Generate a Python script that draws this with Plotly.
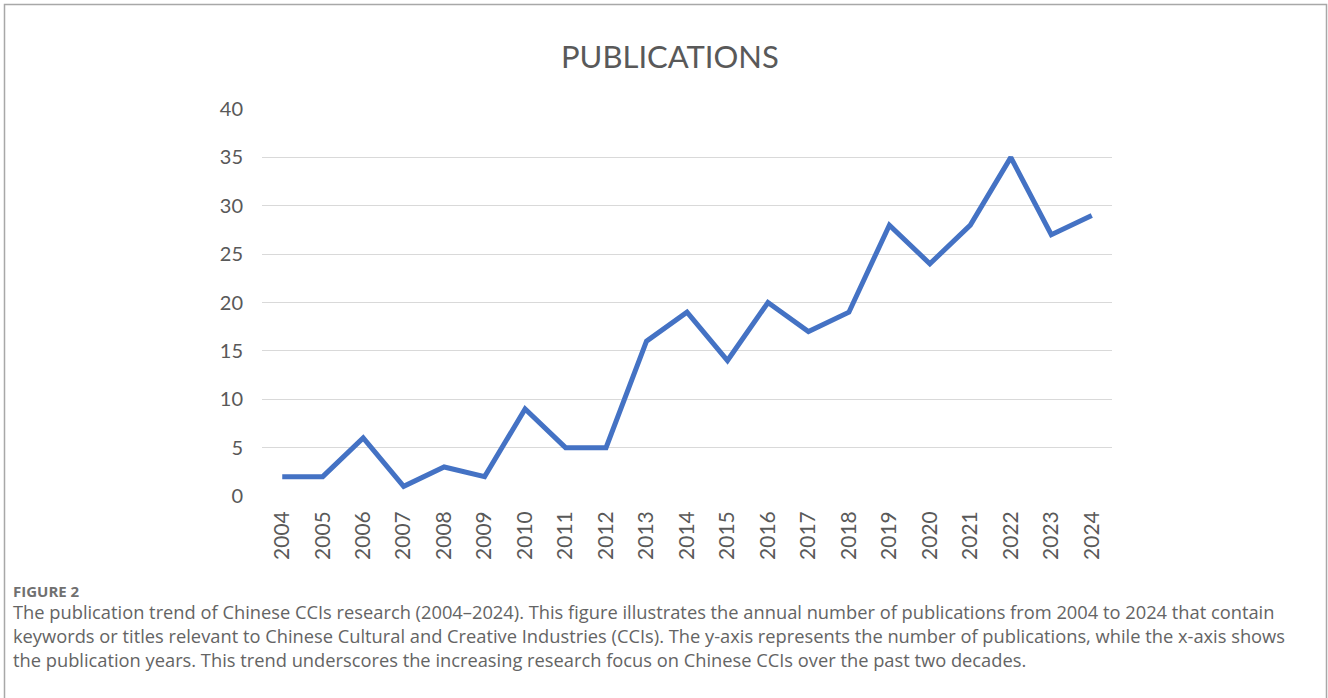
import plotly.graph_objects as go

years = [str(y) for y in range(2004, 2025)]
publications = [2, 2, 6, 1, 3, 2, 9, 5, 5, 16, 19, 14, 20, 17, 19, 28, 24, 28, 35, 27, 29]
y_ticks = [0, 5, 10, 15, 20, 25, 30, 35, 40]

W, H = 1328, 698
L, R, T, B = 262, 1112, 109, 496  # plot area in pixels


def px_x(p):
    return (p - L) / (R - L)


def px_y(p):
    return (B - p) / (B - T)


fig = go.Figure()
fig.add_trace(go.Scatter(
    x=years, y=publications, mode="lines",
    line=dict(color="#4472C4", width=5, shape="linear"),
    hoverinfo="x+y", showlegend=False,
))

fig.update_layout(
    width=W, height=H,
    margin=dict(l=L, r=W - R, t=T, b=H - B),
    paper_bgcolor="white", plot_bgcolor="white",
    font=dict(family="Lato, Open Sans, sans-serif", color="#595959"),
    xaxis=dict(
        type="category", tickangle=-90, showgrid=False, zeroline=False,
        showline=False, ticks="", tickfont=dict(size=21, color="#595959"),
        range=[-0.5, 20.5], ticklabelstandoff=10,
    ),
    yaxis=dict(
        range=[0, 40], tickvals=y_ticks, showgrid=True, gridcolor="#d9d9d9",
        gridwidth=1.3, zeroline=False, showline=False, ticks="",
        tickfont=dict(size=20, color="#595959"), ticklabelstandoff=18,
    ),
)

# Chart title
fig.add_annotation(
    text="PUBLICATIONS", xref="paper", yref="paper",
    x=px_x(670), y=px_y(56), xanchor="center", yanchor="middle",
    showarrow=False, font=dict(size=31, color="#595959", family="Lato, Open Sans, sans-serif"),
)

# Figure caption
fig.add_annotation(
    text="<b>FIGURE 2</b>", xref="paper", yref="paper",
    x=px_x(11), y=px_y(591), xanchor="left", yanchor="middle",
    showarrow=False, font=dict(size=15, color="#707070", family="Open Sans, sans-serif"),
)
caption_lines = [
    "The publication trend of Chinese CCIs research (2004\u20132024). This figure illustrates the annual number of publications from 2004 to 2024 that contain",
    "keywords or titles relevant to Chinese Cultural and Creative Industries (CCIs). The y-axis represents the number of publications, while the x-axis shows",
    "the publication years. This trend underscores the increasing research focus on Chinese CCIs over the past two decades.",
]
for i, line in enumerate(caption_lines):
    fig.add_annotation(
        text=line, xref="paper", yref="paper",
        x=px_x(11), y=px_y(611 + 24 * i), xanchor="left", yanchor="middle",
        showarrow=False, font=dict(size=18.3, color="#646464", family="Open Sans, sans-serif"),
    )

# Outer frame
fig.add_shape(
    type="rect", xref="paper", yref="paper",
    x0=px_x(4.5), x1=px_x(1326.5), y0=px_y(710), y1=px_y(4.5),
    line=dict(color="#a8a8a8", width=1.5), fillcolor="rgba(0,0,0,0)", layer="below",
)

fig.write_html("out.html")
